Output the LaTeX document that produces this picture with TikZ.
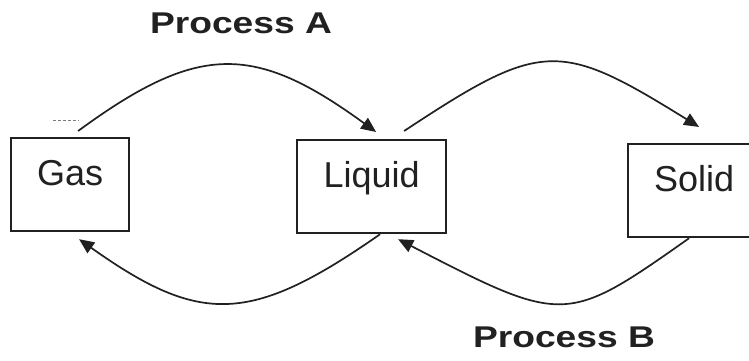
\documentclass[tikz,border=0pt]{standalone}
\usepackage{fontspec}
\setmainfont{Liberation Sans}
\newfontfamily\labelfont[FakeStretch=1.24]{Liberation Sans}
\usetikzlibrary{arrows.meta}
\definecolor{ink}{gray}{0.13}
\tikzset{
  statebox/.style={draw=ink, line width=2.2pt, anchor=north west, inner sep=0pt,
    text height=47pt, text depth=46pt, text=ink,
    font=\fontsize{36}{40}\selectfont},
  flow/.style={draw=ink, line width=1.7pt, -{Triangle[length=15pt,width=13pt]}},
  proclabel/.style={anchor=base, text=ink, inner sep=0pt,
    font=\labelfont\bfseries\fontsize{30}{34}\selectfont},
}
\begin{document}
\begin{tikzpicture}[x=1pt,y=-1pt]
\clip (0,0) rectangle (749,360);
\fill[white] (0,0) rectangle (749,360);
% boxes
\node[statebox, minimum width=118pt] (gas) at (10,137) {Gas};
\node[statebox, minimum width=149pt] (liq) at (296,139) {Liquid};
\node[statebox, minimum width=132pt] (sol) at (627,143) {Solid};
% labels
\node[proclabel] (procA) at (241,33) {Process A};
\node[proclabel] (procB) at (564,347) {Process B};
% small dashed mark
\draw[ink!60, line width=1pt, dash pattern=on 3pt off 2pt] (53,120) -- (79,120);
% connectors
\draw[flow] ([xshift=8pt,yshift=6pt]gas.north) .. controls (198,43) and (254,43) .. ([xshift=4.5pt,yshift=7pt]liq.north);
\draw[flow] ([xshift=32.5pt,yshift=8pt]liq.north) .. controls (542,40) and (559,40) .. ([xshift=5pt,yshift=16pt]sol.north);
\draw[flow] ([xshift=8.5pt]liq.south) .. controls (250,325) and (200,325) .. ([xshift=9pt,yshift=-7pt]gas.south);
\draw[flow] ([xshift=-5pt]sol.south) .. controls (566,325) and (564,325) .. ([xshift=26.5pt,yshift=-5pt]liq.south);
\end{tikzpicture}
\end{document}
